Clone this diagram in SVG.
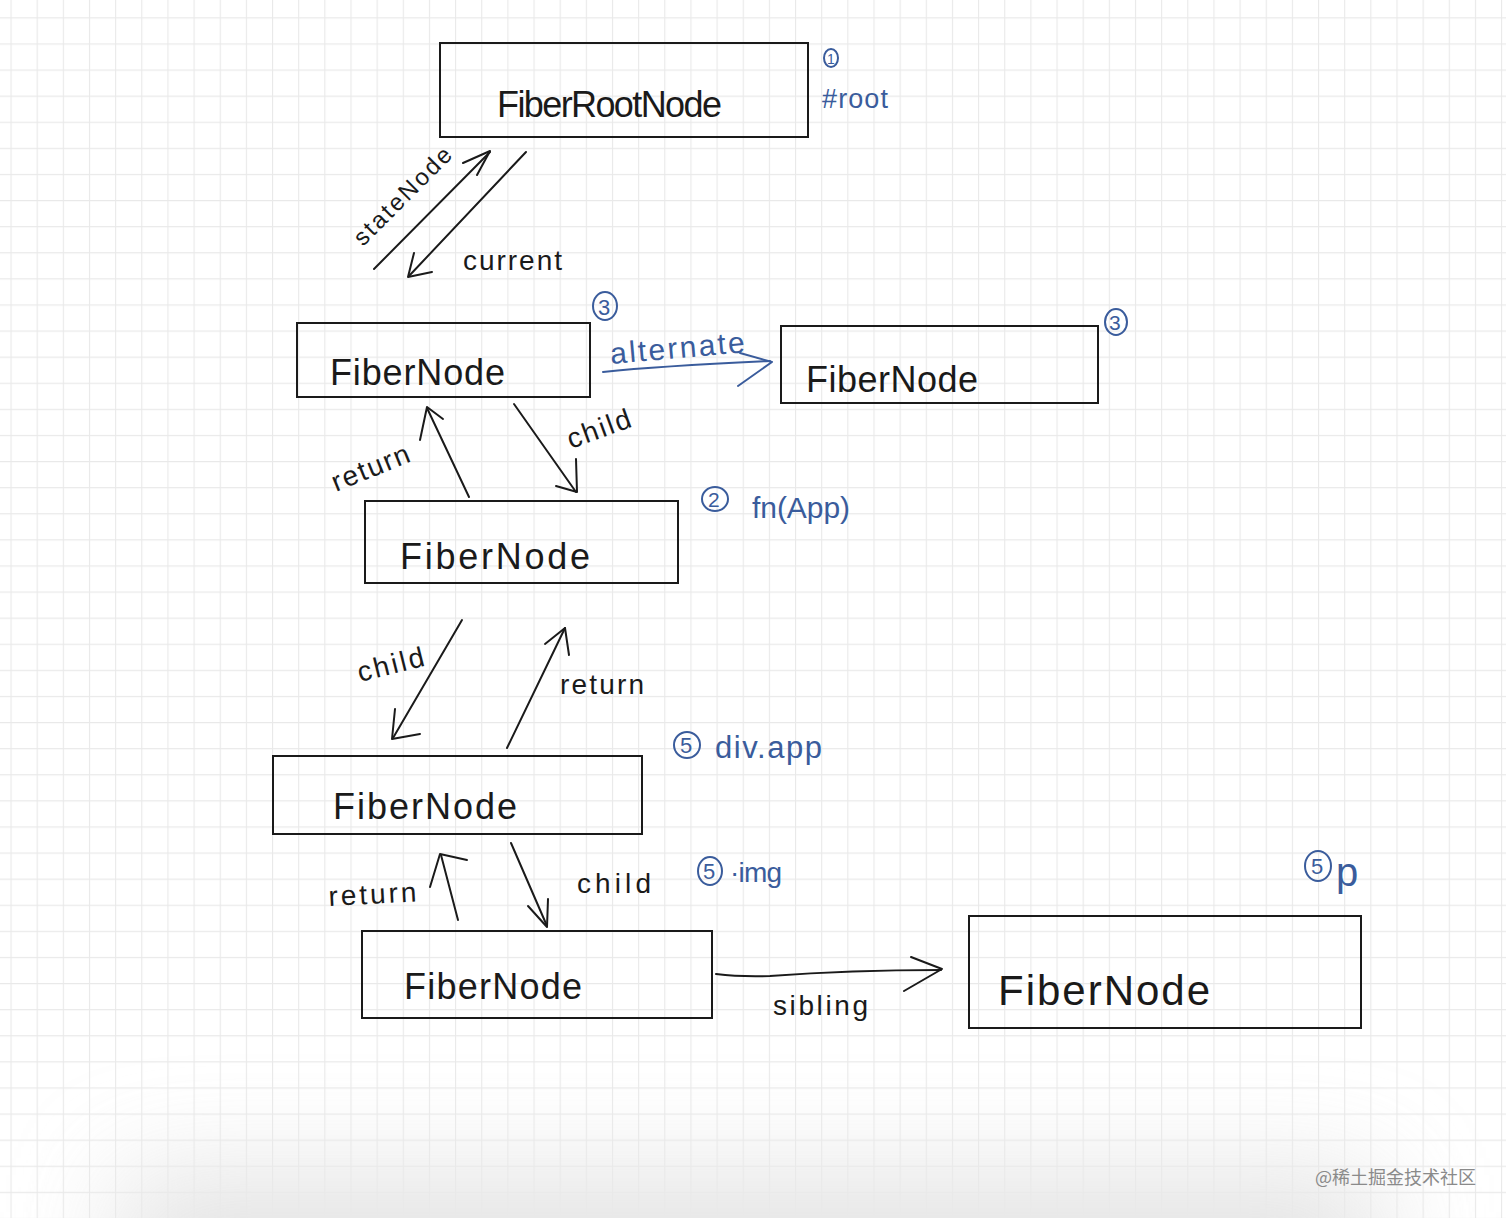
<svg xmlns="http://www.w3.org/2000/svg" width="1506" height="1218" viewBox="0 0 1506 1218">
<defs>
<pattern id="grid" x="10.5" y="17.3" width="26.15" height="26.1" patternUnits="userSpaceOnUse">
<path d="M0.5 0 V26.1 M0 0.5 H26.15" fill="none" stroke="#e9e9e9" stroke-width="1.2"/>
</pattern>
<filter id="blur" x="-0.3" y="-0.8" width="1.6" height="2.6">
<feGaussianBlur stdDeviation="55"/>
</filter>
<style>
.box{fill:none;stroke:#1a1a1a;stroke-width:2}
.lbl{font-family:"Liberation Sans","DejaVu Sans",sans-serif;fill:#1a1a1a}
.node{font-size:36px}
.edge{font-size:28px}
.blue{font-family:"Liberation Sans","DejaVu Sans",sans-serif;fill:#3a5c9c}
.ln{fill:none;stroke:#1a1a1a;stroke-width:2;stroke-linecap:round;stroke-linejoin:round}
.bl{fill:none;stroke:#3a5c9c;stroke-width:2;stroke-linecap:round;stroke-linejoin:round}
</style>
</defs>
<rect x="0" y="0" width="1506" height="1218" fill="#ffffff"/>
<rect x="120" y="1175" width="1260" height="160" fill="#d9d9d9" opacity="0.75" filter="url(#blur)"/>
<rect x="0" y="0" width="1506" height="1218" fill="url(#grid)"/>

<g id="connectors">
<g id="e-statenode">
<path class="ln" d="M374 269 L490 152"/>
<path class="ln" d="M463 163 L490 151 L477 175"/>
<text class="lbl" font-size="24" transform="translate(363 247) rotate(-45)" textLength="128">stateNode</text>
</g>
<g id="e-current">
<path class="ln" d="M526 152 L409 276"/>
<path class="ln" d="M414 253 L408 277 L432 272"/>
<text class="lbl edge" x="463" y="270" textLength="99">current</text>
</g>
<g id="e-alternate">
<path class="bl" d="M603 372 Q660 366 770 361"/>
<path class="bl" d="M740 353 L772 362 L738 386"/>
<text class="blue" font-size="30" transform="translate(611 364) rotate(-5)" textLength="135">alternate</text>
</g>
<g id="e-return1">
<path class="ln" d="M469 497 L427 408"/>
<path class="ln" d="M420 440 L427 407 L443 419"/>
<text class="lbl edge" transform="translate(336 492) rotate(-22)" textLength="82">return</text>
</g>
<g id="e-child1">
<path class="ln" d="M514 404 L576 492"/>
<path class="ln" d="M576 459 L577 492 L556 486"/>
<text class="lbl edge" transform="translate(571 449) rotate(-20)" textLength="66">child</text>
</g>
<g id="e-child2">
<path class="ln" d="M462 620 L393 738"/>
<path class="ln" d="M395 709 L392 739 L420 734"/>
<text class="lbl edge" transform="translate(360 682) rotate(-14)" textLength="68">child</text>
</g>
<g id="e-return2">
<path class="ln" d="M507 748 L565 628"/>
<path class="ln" d="M545 644 L565 628 L569 655"/>
<text class="lbl edge" x="560" y="694" textLength="84">return</text>
</g>
<g id="e-return3">
<path class="ln" d="M458 920 L441 855"/>
<path class="ln" d="M430 887 L440 854 L467 860"/>
<text class="lbl edge" transform="translate(329 906) rotate(-3)" textLength="88">return</text>
</g>
<g id="e-child3">
<path class="ln" d="M511 843 L547 926"/>
<path class="ln" d="M528 906 L547 927 L548 899"/>
<text class="lbl edge" x="577" y="893" textLength="74">child</text>
</g>
<g id="e-sibling">
<path class="ln" d="M716 974 Q740 977 770 976 Q850 970 941 970"/>
<path class="ln" d="M911 957 L942 969 L904 991"/>
<text class="lbl edge" x="773" y="1015" textLength="95">sibling</text>
</g>
</g>

<g id="n-root">
<rect class="box" x="440" y="43" width="368" height="94"/>
<text class="lbl node" x="497" y="117" textLength="225">FiberRootNode</text>
</g>
<g id="n-current">
<rect class="box" x="297" y="323" width="293" height="74"/>
<text class="lbl node" x="330" y="385" textLength="175">FiberNode</text>
</g>
<g id="n-alternate">
<rect class="box" x="781" y="326" width="317" height="77"/>
<text class="lbl node" x="806" y="392" textLength="172">FiberNode</text>
</g>
<g id="n-app">
<rect class="box" x="365" y="501" width="313" height="82"/>
<text class="lbl node" x="400" y="569" textLength="190">FiberNode</text>
</g>
<g id="n-div">
<rect class="box" x="273" y="756" width="369" height="78"/>
<text class="lbl node" x="333" y="819" textLength="184">FiberNode</text>
</g>
<g id="n-img">
<rect class="box" x="362" y="931" width="350" height="87"/>
<text class="lbl node" x="404" y="999" textLength="178">FiberNode</text>
</g>
<g id="n-p">
<rect class="box" x="969" y="916" width="392" height="112"/>
<text class="lbl" font-size="42" x="998" y="1005" textLength="212">FiberNode</text>
</g>

<g id="annotations">
<g id="a-root">
<ellipse class="bl" cx="831" cy="58" rx="7" ry="9"/>
<text class="blue" x="827" y="64" font-size="14">1</text>
<text class="blue" x="822" y="108" font-size="27" textLength="66">#root</text>
</g>
<g id="a-3a">
<ellipse class="bl" cx="605" cy="306" rx="12" ry="14"/>
<text class="blue" x="598" y="315" font-size="22">3</text>
</g>
<g id="a-3b">
<ellipse class="bl" cx="1116" cy="322" rx="11" ry="13"/>
<text class="blue" x="1109" y="330" font-size="21">3</text>
</g>
<g id="a-2">
<ellipse class="bl" cx="715" cy="499" rx="13" ry="12"/>
<text class="blue" x="708" y="507" font-size="21">2</text>
<text class="blue" x="752" y="518" font-size="30" textLength="98">fn(App)</text>
</g>
<g id="a-5a">
<ellipse class="bl" cx="687" cy="745" rx="13" ry="13"/>
<text class="blue" x="680" y="753" font-size="22">5</text>
<text class="blue" x="715" y="758" font-size="31" textLength="107">div.app</text>
</g>
<g id="a-5b">
<ellipse class="bl" cx="710" cy="871" rx="12" ry="14"/>
<text class="blue" x="703" y="879" font-size="22">5</text>
<text class="blue" x="730" y="882" font-size="28" textLength="52">·img</text>
</g>
<g id="a-5c">
<ellipse class="bl" cx="1318" cy="866" rx="13" ry="15"/>
<text class="blue" x="1311" y="874" font-size="22">5</text>
<text class="blue" x="1336" y="886" font-size="40">p</text>
</g>
</g>

<text x="1315" y="1184" font-family="'Noto Sans CJK SC','Liberation Sans',sans-serif" font-size="18" fill="#8a8a8a" textLength="161">@稀土掘金技术社区</text>
</svg>
